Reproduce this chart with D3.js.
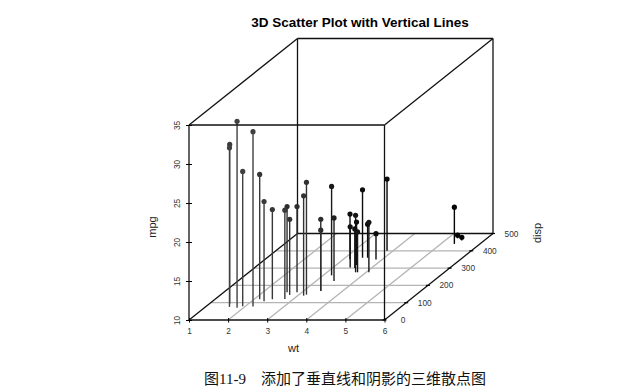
<!DOCTYPE html>
<html>
<head>
<meta charset="utf-8">
<script src="https://cdn.jsdelivr.net/npm/d3@7"></script>
<style>
    html, body { margin: 0; padding: 0; background: #fff; }
    svg { display: block; }
    text { font-family: "Liberation Sans", Arial, sans-serif; fill: #222; }
    .tick-label { font-size: 8.3px; fill: #333; }
    .axis-label { font-size: 11px; }
</style>
</head>
<body>
<div id="chart"></div>
<script>
// values
const wt = [2.62, 2.875, 2.32, 3.215, 3.44, 3.46, 3.57, 3.19, 3.15, 3.44, 3.44, 4.07, 3.73, 3.78, 5.25, 5.424, 5.345, 2.2, 1.615, 1.835, 2.465, 3.52, 3.435, 3.84, 3.845, 1.935, 2.14, 1.513, 3.17, 2.77, 3.57, 2.78];
const disp = [160, 160, 108, 258, 360, 225, 360, 146.7, 140.8, 167.6, 167.6, 275.8, 275.8, 275.8, 472, 460, 440, 78.7, 75.7, 71.1, 120.1, 318, 304, 350, 400, 79, 120.3, 95.1, 351, 145, 301, 121];
const mpg = [21, 21, 22.8, 21.4, 18.7, 18.1, 14.3, 24.4, 22.8, 19.2, 17.8, 16.4, 17.3, 15.2, 10.4, 10.4, 14.7, 32.4, 30.4, 33.9, 21.5, 15.5, 15.2, 13.3, 19.2, 27.3, 26, 30.4, 15.8, 19.7, 15, 21.4];

const wtTicks = [1, 2, 3, 4, 5, 6];
const mpgTicks = [10, 15, 20, 25, 30, 35];
const dispTicks = [0, 100, 200, 300, 400, 500];

const titleText = "3D Scatter Plot with Vertical Lines";
const captionText = "图11-9\u2002\u2002添加了垂直线和阴影的三维散点图";

const width = 626, height = 391;

const svg = d3.select("#chart")
    .append("svg")
    .attr("width", width)
    .attr("height", height);

// scales, disp pushes a point right and up on the page
const xScale = d3.scaleLinear().domain([1, 6]).range([189, 384.5]);
const yScale = d3.scaleLinear().domain([10, 35]).range([320, 125]);
const depthX = d3.scaleLinear().domain([0, 500]).range([0, 108.5]);
const depthY = d3.scaleLinear().domain([0, 500]).range([0, -86.5]);
const shade = d3.scaleLinear().domain([0, 300, 500]).range(["#505050", "#111", "#000"]);

const px = (w, d) => xScale(w) + depthX(d);
const py = (m, d) => yScale(m) + depthY(d);

function segment(x1, y1, x2, y2, color, sw) {
    svg.append("line")
        .attr("x1", x1).attr("y1", y1)
        .attr("x2", x2).attr("y2", y2)
        .attr("stroke", color)
        .attr("stroke-width", sw);
}

// floor grid
wtTicks.slice(1, -1).forEach(w => {
    segment(px(w, 0), py(10, 0), px(w, 500), py(10, 500), "#b4b4b4", 1.3);
});
dispTicks.slice(1, -1).forEach(d => {
    segment(px(1, d), py(10, d), px(6, d), py(10, d), "#b4b4b4", 1.3);
});

// back of the box
const boxColor = "#111";
const boxWidth = 1.3;
segment(px(1, 500), py(10, 500), px(6, 500), py(10, 500), boxColor, boxWidth);
segment(px(1, 500), py(35, 500), px(6, 500), py(35, 500), boxColor, boxWidth);
segment(px(1, 500), py(10, 500), px(1, 500), py(35, 500), boxColor, boxWidth);
segment(px(6, 500), py(10, 500), px(6, 500), py(35, 500), boxColor, boxWidth);

// side edges
wtTicks.filter(w => w === 1 || w === 6).forEach(w => {
    segment(px(w, 0), py(10, 0), px(w, 500), py(10, 500), boxColor, boxWidth);
    segment(px(w, 0), py(35, 0), px(w, 500), py(35, 500), boxColor, boxWidth);
});

// vertical lines and points, back ones first
const points = d3.range(wt.length)
    .map(i => ({ wt: wt[i], disp: disp[i], mpg: mpg[i] }))
    .sort((a, b) => b.disp - a.disp);

svg.append("g").selectAll("line")
    .data(points)
    .join("line")
    .attr("x1", d => px(d.wt, d.disp))
    .attr("x2", d => px(d.wt, d.disp))
    .attr("y1", d => py(d.mpg, d.disp))
    .attr("y2", d => py(10, d.disp))
    .attr("stroke", d => shade(d.disp))
    .attr("stroke-width", 1.4);

svg.append("g").selectAll("circle")
    .data(points)
    .join("circle")
    .attr("cx", d => px(d.wt, d.disp))
    .attr("cy", d => py(d.mpg, d.disp))
    .attr("r", 2.6)
    .attr("fill", d => shade(d.disp));

// front of the box
segment(xScale(1), yScale(10), xScale(6), yScale(10), boxColor, boxWidth);
segment(xScale(1), yScale(35), xScale(6), yScale(35), boxColor, boxWidth);
segment(xScale(1), yScale(10), xScale(1), yScale(35), boxColor, boxWidth);
segment(xScale(6), yScale(10), xScale(6), yScale(35), boxColor, boxWidth);

// x axis
const xAxis = d3.axisBottom(xScale).tickValues(wtTicks).tickFormat(d3.format("d")).tickSize(4.5).tickPadding(6);
const xAxisG = svg.append("g")
    .attr("transform", `translate(0, ${yScale(10) - 2})`)
    .call(xAxis);
xAxisG.select(".domain").remove();
xAxisG.selectAll("text").attr("class", "tick-label");
xAxisG.attr("font-family", null).attr("font-size", null);

// y axis, ticks cross the edge and labels are turned on their side
const yAxis = d3.axisLeft(yScale).tickValues(mpgTicks).tickFormat(d3.format("d")).tickSize(6).tickPadding(0);
const yAxisG = svg.append("g")
    .attr("transform", `translate(${xScale(1) + 3}, 0)`)
    .call(yAxis);
yAxisG.select(".domain").remove();
yAxisG.attr("font-family", null).attr("font-size", null);
yAxisG.selectAll("text")
    .attr("class", "tick-label")
    .attr("x", null).attr("dy", null)
    .attr("text-anchor", "middle")
    .attr("transform", "translate(-12, 0) rotate(-90)");

// disp ticks along the right floor edge
const dispG = svg.append("g").selectAll("g")
    .data(dispTicks)
    .join("g")
    .attr("transform", d => `translate(${px(6, d)}, ${py(10, d)})`);

dispG.append("line")
    .attr("x1", -2).attr("x2", 2)
    .attr("stroke", "#000")
    .attr("stroke-width", 1.2);

dispG.append("text")
    .attr("class", "tick-label")
    .attr("x", 18.5)
    .attr("y", 3)
    .attr("text-anchor", "middle")
    .text(d => d);

// labels
svg.append("text")
    .attr("class", "axis-label")
    .attr("x", 293.5)
    .attr("y", 352)
    .attr("text-anchor", "middle")
    .text("wt");

svg.append("text")
    .attr("class", "axis-label")
    .attr("transform", "translate(156, 227) rotate(-90)")
    .attr("text-anchor", "middle")
    .text("mpg");

svg.append("text")
    .attr("class", "axis-label")
    .attr("transform", "translate(541, 233) rotate(-90)")
    .attr("text-anchor", "middle")
    .text("disp");

svg.append("text")
    .attr("x", 360)
    .attr("y", 27)
    .attr("text-anchor", "middle")
    .style("font-size", "13.5px")
    .style("font-weight", "bold")
    .style("fill", "#000")
    .text(titleText);

svg.append("text")
    .attr("x", 204)
    .attr("y", 384)
    .style("font-family", '"Liberation Serif", "Noto Sans CJK SC", serif')
    .style("font-size", "15px")
    .style("fill", "#111")
    .text(captionText);
</script>
</body>
</html>
